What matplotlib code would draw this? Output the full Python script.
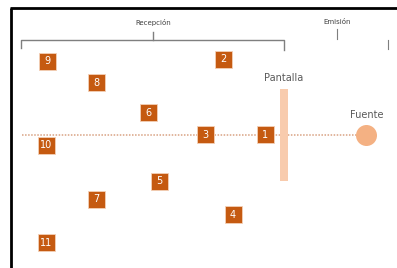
import matplotlib.pyplot as plt
from matplotlib.patches import Rectangle, Circle

# posiciones de los receptores (en pixeles de la figura)
labels = ['1', '2', '3', '4', '5', '6', '7', '8', '9', '10', '11']
pos_x = [265.5, 223.5, 205.5, 233, 159.5, 148.5, 96.5, 96.5, 47.5, 46.5, 46.5]
pos_y = [134.5, 59, 134.5, 214, 181, 112, 199, 82, 61, 145, 242]

beam_x = [22, 356]
beam_y = 134.5
screen_x = 284
screen_y = [89, 181]
source_x, source_y = 366.5, 135.5

fig = plt.figure(figsize=(3.97, 2.68), dpi=100)
ax = fig.add_axes([0, 0, 1, 1])
ax.set_xlim(0, 397)
ax.set_ylim(268, 0)
ax.axis('off')

# marco
ax.plot([10.5, 10.5], [8, 268], color='black', lw=2, solid_capstyle='butt')
ax.plot([10, 397], [8, 8], color='black', lw=2, solid_capstyle='butt')

# llaves
gray = '#7f7f7f'
ax.plot([21, 21, 284, 284], [48, 40, 40, 50], color=gray, lw=1)
ax.plot([153, 153], [32, 40], color=gray, lw=1)
ax.text(153, 22, 'Recepción', ha='center', va='center', fontsize=5, color='#404040')
ax.plot([337, 337], [29, 39], color=gray, lw=0.8)
ax.plot([388, 388], [40, 49], color=gray, lw=0.8)
ax.text(337, 22, 'Emisión', ha='center', va='center', fontsize=5, color='#404040')

# haz
ax.plot(beam_x, [beam_y, beam_y], color='#d8a283', lw=1.1, ls=(0, (1, 1)), zorder=2)

# pantalla
ax.add_patch(Rectangle((screen_x - 4, screen_y[0]), 8, screen_y[1] - screen_y[0],
                       color='#f8cbad', lw=0, zorder=3))
ax.text(screen_x, 78, 'Pantalla', ha='center', va='center', fontsize=7, color='#595959')

# fuente
ax.add_patch(Circle((source_x, source_y), 10.5, color='#f4b183', lw=0, zorder=3))
ax.text(source_x, 115, 'Fuente', ha='center', va='center', fontsize=7, color='#595959')

# receptores
for lab, x, y in zip(labels, pos_x, pos_y):
    ax.add_patch(Rectangle((x - 8.5, y - 8.5), 17, 17, facecolor='#c55a11',
                           edgecolor='#f4d0b8', lw=0.6, zorder=4))
    ax.text(x, y + 0.5, lab, ha='center', va='center', fontsize=7, color='white', zorder=5)

fig.savefig('out.png', dpi=100)
